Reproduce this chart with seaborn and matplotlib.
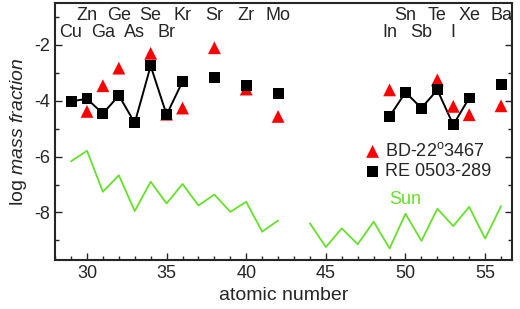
import pandas as pd
import matplotlib.pyplot as plt
import seaborn as sns
from matplotlib.ticker import MultipleLocator

# atomic numbers and log mass fractions
z_re = [29, 30, 31, 32, 33, 34, 35, 36, 38, 40, 42, 49, 50, 51, 52, 53, 54, 56]
re_vals = [-4.02, -3.93, -4.46, -3.81, -4.79, -2.75, -4.50, -3.31, -3.17, -3.46,
           -3.73, -4.56, -3.70, -4.26, -3.61, -4.86, -3.90, -3.43]
# which RE points are joined by the black line
re_group = [1, 1, 1, 1, 1, 1, 1, 1, 0, 0, 0, 2, 2, 2, 2, 2, 2, 0]

z_bd = [30, 31, 32, 34, 35, 36, 38, 40, 42, 49, 52, 53, 54, 56]
bd_vals = [-4.38, -3.46, -2.83, -2.30, -4.48, -4.26, -2.10, -3.58, -4.56, -3.61,
           -3.25, -4.20, -4.50, -4.18]

z_sun = [29, 30, 31, 32, 33, 34, 35, 36, 37, 38, 39, 40, 41, 42,
         44, 45, 46, 47, 48, 49, 50, 51, 52, 53, 54, 55, 56]
sun_vals = [-6.17, -5.79, -7.26, -6.67, -7.95, -6.90, -7.68, -6.98, -7.75, -7.36,
            -7.98, -7.62, -8.69, -8.29,
            -8.39, -9.24, -8.57, -9.14, -8.33, -9.29, -8.05, -9.02, -7.87, -8.49,
            -7.80, -8.94, -7.77]
sun_group = [1] * 14 + [2] * 13

top_elems = ["Zn", "Ge", "Se", "Kr", "Sr", "Zr", "Mo", "Sn", "Te", "Xe", "Ba"]
top_z = [30, 32, 34, 36, 38, 40, 42, 50, 52, 54, 56]
low_elems = ["Cu", "Ga", "As", "Br", "In", "Sb", "I"]
low_z = [29, 31, 33, 35, 49, 51, 53]

re_df = pd.DataFrame({"Z": z_re, "val": re_vals, "grp": re_group})
bd_df = pd.DataFrame({"Z": z_bd, "val": bd_vals})
sun_df = pd.DataFrame({"Z": z_sun, "val": sun_vals, "grp": sun_group})

sns.set_style("ticks")
plt.rcParams["font.family"] = ["Liberation Sans", "DejaVu Sans"]
plt.rcParams["mathtext.fontset"] = "custom"
plt.rcParams["mathtext.rm"] = "Liberation Sans"
plt.rcParams["mathtext.it"] = "Liberation Sans:italic"
plt.rcParams["axes.unicode_minus"] = False

fig, ax = plt.subplots(figsize=(5.2, 3.09), dpi=100)
fig.subplots_adjust(left=0.106, right=0.985, bottom=0.159, top=0.99)

green = "#66e02a"

# solar pattern
sns.lineplot(data=sun_df, x="Z", y="val", units="grp", estimator=None,
             color=green, linewidth=1.3, ax=ax, legend=False)

# connecting lines for RE 0503-289
joined = re_df[re_df["grp"] > 0]
sns.lineplot(data=joined, x="Z", y="val", units="grp", estimator=None,
             color="black", linewidth=1.4, ax=ax, legend=False)

sns.scatterplot(data=bd_df, x="Z", y="val", marker="^", s=85, color="#ff0000",
                edgecolor="none", ax=ax, label="BD-22$^{\\rm o}$3467", zorder=3)
sns.scatterplot(data=re_df, x="Z", y="val", marker="s", s=62, color="black",
                edgecolor="none", ax=ax, label="RE 0503-289", zorder=4)

for name, z in zip(top_elems, top_z):
    ax.text(z, -0.93, name, ha="center", va="center", fontsize=13)
for name, z in zip(low_elems, low_z):
    ax.text(z, -1.57, name, ha="center", va="center", fontsize=13)

ax.text(50.0, -7.55, "Sun", color=green, ha="center", va="center", fontsize=13)

ax.set_xlim(28, 56.7)
ax.set_ylim(-9.7, -0.5)
ax.xaxis.set_major_locator(MultipleLocator(5))
ax.xaxis.set_minor_locator(MultipleLocator(1))
ax.yaxis.set_major_locator(MultipleLocator(2))
ax.yaxis.set_minor_locator(MultipleLocator(1))
ax.set_yticks([-8, -6, -4, -2])
ax.tick_params(which="both", direction="in", right=True, width=1.0, labelsize=13)
ax.tick_params(which="major", length=5)
ax.tick_params(which="minor", length=3)
for side in ax.spines.values():
    side.set_linewidth(1.5)

ax.set_xlabel("atomic number", fontsize=14)
ax.set_ylabel("log $\\mathit{mass\\ fraction}$", fontsize=14)

ax.legend(loc="center left", bbox_to_anchor=(0.655, 0.385), frameon=False,
          fontsize=13, handletextpad=0.1, borderaxespad=0, labelspacing=0.15,
          handlelength=1.2)

plt.savefig("out.png")
